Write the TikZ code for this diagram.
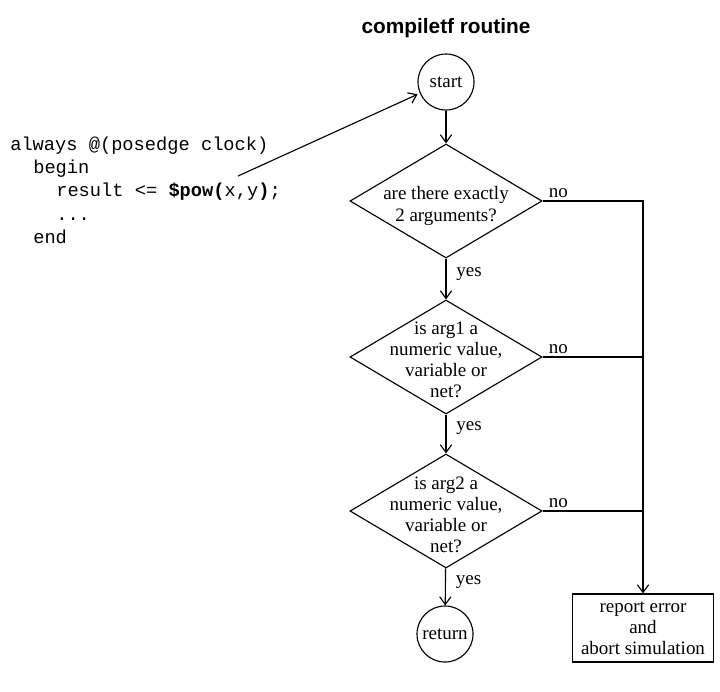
\documentclass[tikz,border=0pt]{standalone}
\usepackage{fontspec}
\setmainfont{Liberation Serif}
\setsansfont{Liberation Sans}
\setmonofont{Liberation Mono}
\usetikzlibrary{shapes.geometric,arrows.meta}

\begin{document}
\begin{tikzpicture}[x=0.025cm,y=-0.025cm,
    ln/.style={line width=0.8pt},
    arr/.style={ln,-{Straight Barb[length=5.5pt,width=8pt]}},
    txt/.style={font=\fontsize{13.5}{15}\selectfont},
    lbl/.style={txt,inner sep=2pt},
    decision/.style={draw,ln,diamond,inner sep=0pt,minimum width=4.8cm,minimum height=2.85cm},
    terminal/.style={draw,ln,circle,inner sep=0pt,minimum size=1.4cm,txt},
    action/.style={draw,ln,rectangle,inner sep=0pt,minimum width=3.525cm,minimum height=1.7cm},
    code/.style={anchor=base west,inner sep=0pt,font=\ttfamily\fontsize{13.3}{16}\selectfont},
  ]
    \useasboundingbox (0,0) rectangle (720,691);

    \node[font=\sffamily\bfseries\fontsize{14.8}{17}\selectfont] (title) at (446,28) {compiletf routine};

    % verilog code
    \node[code] (c1) at (10,150) {always @(posedge clock)};
    \node[code] (c2) at (33,173.3) {begin};
    \node[code] (c3) at (56,196.6) {result <= \textbf{\$pow(}x,y\textbf{)};};
    \node[code] (c4) at (56,220) {...};
    \node[code] (c5) at (33,243.3) {end};
    \coordinate (call) at (238,176);

    % flow
    \node[terminal] (start) at (446,82) {start};

    \node[decision] (d1) at (446,201) {};
    \node[txt,align=center] (d1t) at (446,206) {are there exactly\\2 arguments?};

    \node[decision] (d2) at (446,357) {};
    \node[txt,align=center] (d2t) at (446,360) {is arg1 a\\numeric value,\\variable or\\net?};

    \node[decision] (d3) at (446,511) {};
    \node[txt,align=center] (d3t) at (446,515) {is arg2 a\\numeric value,\\variable or\\net?};

    \node[terminal] (ret) at (445,634) {return};

    \node[action,txt,align=center] (err) at (643,628) {report error\\and\\abort simulation};

    \draw[arr] (call) -- ([shift={(-3pt,2pt)}]start.212);
    \draw[arr] (start) -- (d1);
    \draw[arr] (d1) -- node[lbl,right,pos=.38,xshift=5pt] (yes1) {yes} (d2);
    \draw[arr] (d2) -- node[lbl,right,pos=.35,xshift=5pt] (yes2) {yes} (d3);
    \draw[arr] (d3) -- node[lbl,right,pos=.38,xshift=5pt] (yes3) {yes} (ret);

    \draw[arr] (d1.east) node[lbl,above right,xshift=2pt] (no1) {no} -| (err.north);
    \draw[ln] (d2.east) node[lbl,above right,xshift=2pt] (no2) {no} -- (d2.east -| err.north);
    \draw[ln] (d3.east) node[lbl,above right,xshift=2pt] (no3) {no} -- (d3.east -| err.north);

\end{tikzpicture}
\end{document}
